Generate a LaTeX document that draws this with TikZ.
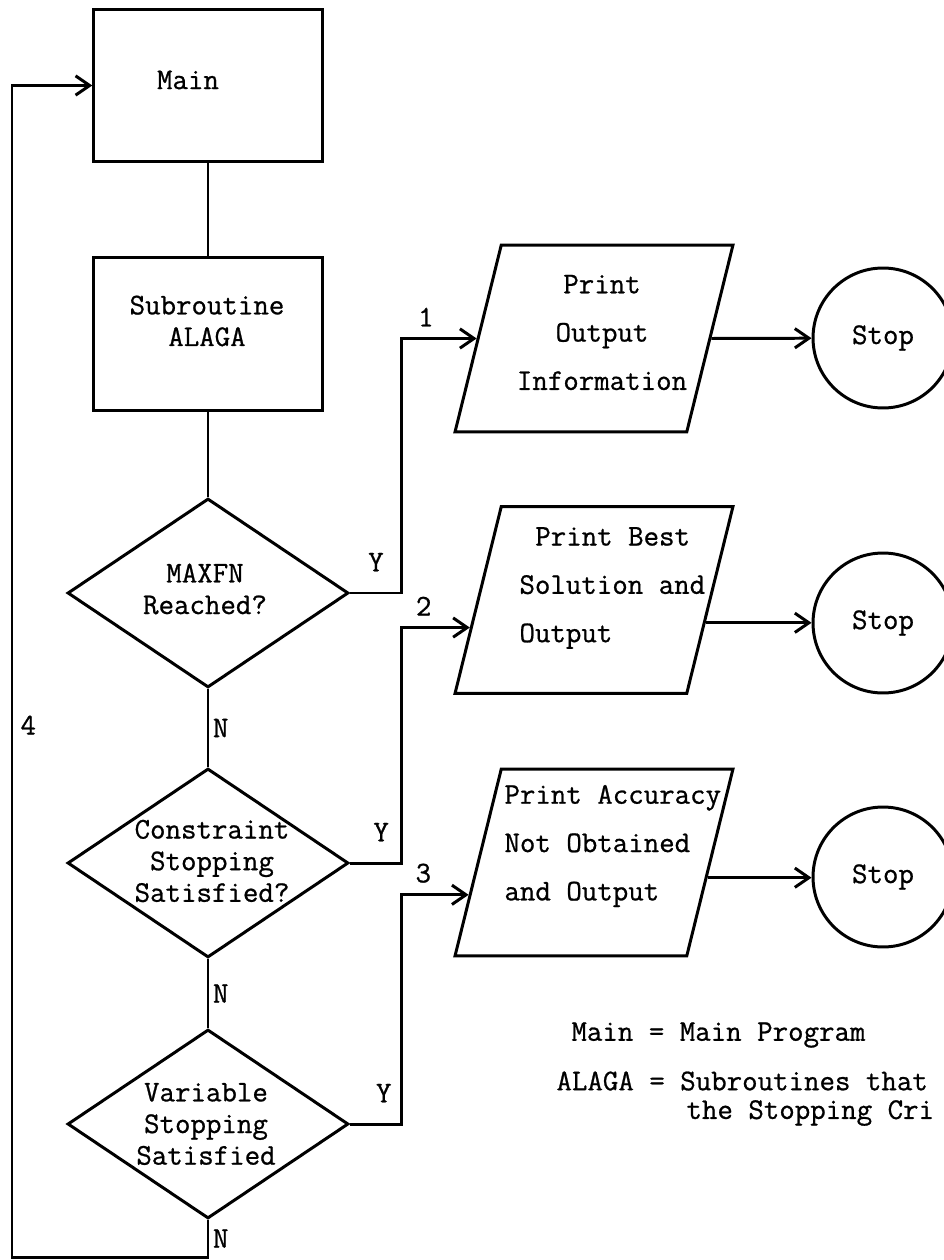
\documentclass[tikz,border=0pt]{standalone}
\usepackage{fontspec}
\newfontfamily\typew{Latin Modern Mono}[FakeBold=0.8]
\usetikzlibrary{shapes.geometric,arrows.meta,calc}

\begin{document}
\begin{tikzpicture}[x=0.02cm, y=-0.02cm,
    line width=1.7pt,
    >={Straight Barb[length=8pt,width=11pt]},
    every node/.style={font=\typew\fontsize{17.1}{18}\selectfont},
    block/.style={draw, rectangle, minimum width=4.57cm, minimum height=3.06cm, inner sep=0pt},
    decision/.style={draw, diamond, minimum width=5.62cm, minimum height=3.78cm, inner sep=0pt},
    io/.style={draw, trapezium, trapezium left angle=76, trapezium right angle=104,
               trapezium stretches=true, minimum width=5.56cm, minimum height=3.74cm, inner sep=2pt},
    stopper/.style={draw, circle, minimum size=2.8cm, inner sep=0pt},
    txt/.style={inner sep=0pt, align=center},
    wide/.style={txt, font=\typew\fontsize{17.1}{27.5}\selectfont},
    lbl/.style={inner sep=1pt}
  ]
  \useasboundingbox (0,0) rectangle (943,1260);

  % main column
  \node[block] (main) at (208,85.5) {};
  \node[block] (sub) at (208,334) {};
  \node[decision] (maxfn) at (208,593) {};
  \node[decision] (cons) at (208,863) {};
  \node[decision] (vars) at (208,1124) {};

  \node[txt] (mainT) at (188,80) {Main};
  \node[txt] (subT) at (207,321) {Subroutine\\ALAGA};
  \node[txt] (maxfnT) at (205,589) {MAXFN\\Reached?};
  \node[txt] (consT) at (212,861) {Constraint\\Stopping\\Satisfied?};
  \node[txt] (varsT) at (206,1124) {Variable\\Stopping\\Satisfied};

  % output boxes and stops
  \node[io] (out1) at (594,338.5) {};
  \node[io] (out2) at (594,600) {};
  \node[io] (out3) at (594,862.5) {};

  \node[wide] (out1T) at (602,332.5) {Print\\Output\\Information};
  \node[wide, anchor=west, align=left] (out2T) at (518,588) {\hspace*{9pt}Print Best\\Solution and\\Output};
  \node[wide, anchor=west, align=left] (out3T) at (503,846) {Print Accuracy\\Not Obtained\\and Output};

  \node[stopper] (stop1) at (883,338) {Stop};
  \node[stopper] (stop2) at (883,623) {Stop};
  \node[stopper] (stop3) at (883,877) {Stop};

  % points on the slanted sides
  \coordinate (in1) at (out1.west);
  \coordinate (in2) at ($(out2.top left corner)!0.645!(out2.bottom left corner)$);
  \coordinate (in3) at ($(out3.top left corner)!0.67!(out3.bottom left corner)$);
  \coordinate (ex1) at (out1.east);
  \coordinate (ex2) at ($(out2.top right corner)!0.62!(out2.bottom right corner)$);
  \coordinate (ex3) at ($(out3.top right corner)!0.58!(out3.bottom right corner)$);
  \coordinate (loop) at (12,1257);

  % connectors
  \draw (main) -- (sub);
  \draw (sub) -- (maxfn);
  \draw (maxfn) -- (cons) node[lbl, midway, right=1pt] {N};
  \draw (cons) -- (vars) node[lbl, midway, right=1pt] {N};

  \draw[->] (maxfn.east) -- ++(52,0) node[lbl, pos=0.5, above=10.5pt] {Y}
            |- (in1) node[lbl, pos=0.66, above=5pt] {1};
  \draw[->] (cons.east) -- ++(52,0) node[lbl, pos=0.6, above=10.5pt] {Y}
            |- (in2) node[lbl, pos=0.66, above=5pt] {2};
  \draw[->] (vars.east) -- ++(52,0) node[lbl, pos=0.65, above=10.5pt] {Y}
            |- (in3) node[lbl, pos=0.66, above=5pt] {3};

  \draw[->] (ex1) -- (stop1);
  \draw[->] (ex2) -- (ex2 -| stop2.west);
  \draw[->] (ex3) -- (ex3 -| stop3.west);

  \draw[->] (vars.south) -- (vars.south |- loop) node[lbl, midway, right=1pt] {N}
            -- (loop) |- (main.west) node[lbl, pos=0.227, right=3pt] {4};

  % key
  \node[txt, anchor=west] (key1) at (570,1035) {Main = Main Program};
  \node[txt, anchor=west] (key2) at (555,1081) {ALAGA = Subroutines that};
  \node[txt, anchor=west] (key3) at (685,1113) {the Stopping Cri};
\end{tikzpicture}
\end{document}
